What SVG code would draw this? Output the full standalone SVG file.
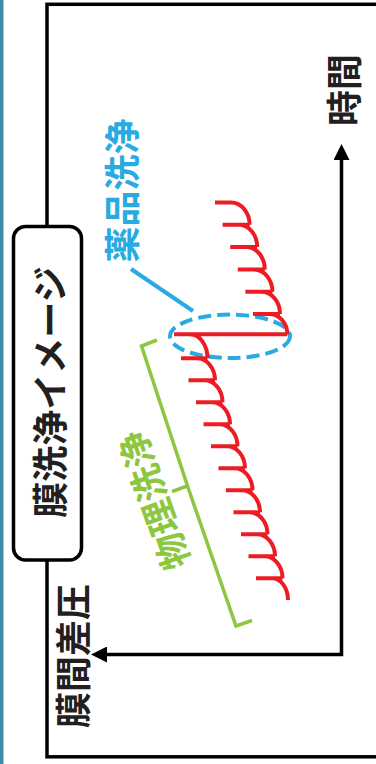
<svg xmlns="http://www.w3.org/2000/svg" width="376" height="764" viewBox="0 0 376 764">
<style>
text{font-family:"Noto Sans CJK JP","Noto Sans",sans-serif;font-weight:700;font-size:36px;text-anchor:middle;dominant-baseline:central}
.blk{fill:#231f20}
.axis{fill:none;stroke:#000;stroke-width:3.5}
.red{fill:none;stroke:#ed1c24;stroke-width:4;stroke-linecap:butt}
.blue{fill:none;stroke:#29abe2;stroke-width:4}
.green{fill:none;stroke:#8dc63f;stroke-width:3.5;stroke-linejoin:miter}
</style>
<defs>
<marker id="arr" viewBox="0 0 16 16" refX="0" refY="8" markerWidth="16" markerHeight="16" markerUnits="userSpaceOnUse" orient="auto-start-reverse">
<path d="M0,0L16,8L0,16z" fill="#000"/>
</marker>
</defs>
<rect width="376" height="764" fill="#fff"/>
<rect x="0" y="0" width="3.5" height="764" fill="#3b8ea5"/>
<g id="frame"><rect x="47" y="4.3" width="340" height="752.5" fill="none" stroke="#000" stroke-width="3.5"/></g>
<g id="title">
<rect x="13.5" y="226.5" width="68" height="333.5" rx="12" fill="#fff" stroke="#000" stroke-width="3.5"/>
<text class="blk" transform="translate(48,392) rotate(-90)">膜洗浄イメージ</text>
</g>
<g id="connectors">
<path class="axis" d="M341.5,160V654.5H107" marker-start="url(#arr)" marker-end="url(#arr)"/>
<path class="blue" d="M131,269L193,311"/>
</g>
<g id="time-label"><text class="blk" transform="translate(342,90) rotate(-90)">時間</text></g>
<g id="pressure-label"><text class="blk" transform="translate(70.5,656) rotate(-90)">膜間差圧</text></g>
<g id="chemical-label"><text fill="#29abe2" transform="translate(119.5,190.5) rotate(-90)">薬品洗浄</text></g>
<g id="chemical-mark"><ellipse class="blue" cx="230" cy="336.3" rx="60" ry="21.7" stroke-dasharray="13 6"/></g>
<g id="physical">
<path class="green" d="M157,340L141.5,346L187.5,486L172,491.5M187.5,486L236,626L252,620.5"/>
<text fill="#8dc63f" transform="translate(152,501) rotate(-109.5)">物理洗浄</text>
</g>
<g id="curve">
<path class="red" d="M288,600A16,21.7 0 0 0 272,578.3
M256,578.3H282.5M282.5,578.3A18,22 0 0 0 264.5,556.3
M248.5,556.3H275M275,556.3A18,22 0 0 0 257,534.3
M241,534.3H267.5M267.5,534.3A18,22 0 0 0 249.5,512.3
M233.5,512.3H260M260,512.3A18,22 0 0 0 242,490.3
M226,490.3H252.5M252.5,490.3A18,22 0 0 0 234.5,468.3
M218.5,468.3H245M245,468.3A18,22 0 0 0 227,446.3
M211,446.3H237.5M237.5,446.3A18,22 0 0 0 219.5,424.3
M203.5,424.3H230M230,424.3A18,22 0 0 0 212,402.3
M196,402.3H222.5M222.5,402.3A18,22 0 0 0 204.5,380.3
M188.5,380.3H215M215,380.3A18,22 0 0 0 197,358.3
M181,358.3H207.5M207.5,358.3A17.5,24 0 0 0 190,334.3
M174,334.3H287.3M287.3,334.3A18.3,20.3 0 0 0 269,314
M253,314H280M280,314A18.6,22.3 0 0 0 261.4,291.7
M245.4,291.7H272.4M272.4,291.7A18.6,22.3 0 0 0 253.8,269.4
M237.8,269.4H264.8M264.8,269.4A18.6,22.3 0 0 0 246.2,247.1
M230.2,247.1H257.2M257.2,247.1A18.6,22.3 0 0 0 238.6,224.8
M222.6,224.8H249.6M249.6,224.8A18.6,22.3 0 0 0 231,202.5
M215,202.5H231"/>
</g>
</svg>
